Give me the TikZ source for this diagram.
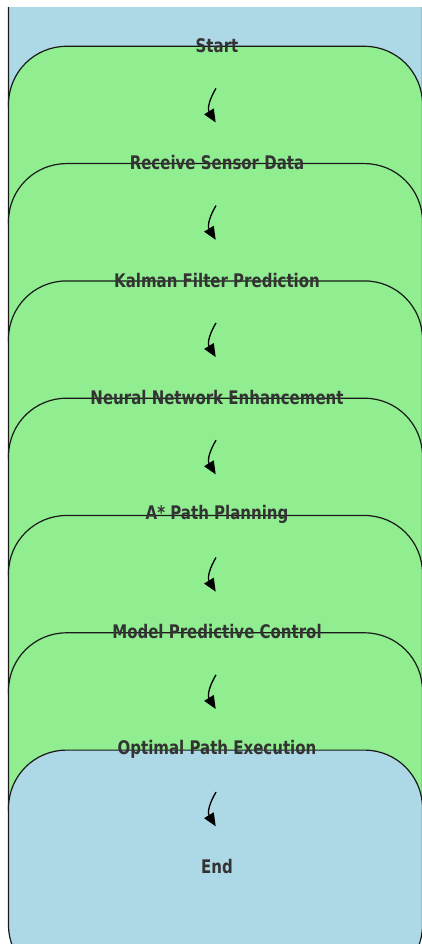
\documentclass[tikz,border=0pt]{standalone}
\usepackage{fontspec}
\setmainfont{DejaVu Sans}
\usetikzlibrary{arrows.meta}
\definecolor{startblue}{HTML}{ADD8E6}
\definecolor{stepgreen}{HTML}{90EE90}
\definecolor{labelgray}{HTML}{333333}
\newcommand{\lbltext}[1]{\scalebox{1}[1.25]{#1}}
\tikzset{
  boxbase/.style={draw=black!90, line width=1.2pt, rounded corners=58pt,
    minimum width=414pt, minimum height=233pt, inner sep=0pt},
  termbox/.style={boxbase, fill=startblue},
  stepbox/.style={boxbase, fill=stepgreen},
  lbl/.style={font=\fontsize{15}{18}\selectfont\bfseries, text=labelgray, inner sep=0pt},
  arr/.style={line width=1.3pt, -{Triangle[length=13pt,width=11pt]}}
}
\begin{document}
\begin{tikzpicture}[x=1pt,y=-1pt]
\useasboundingbox (0,0) rectangle (422,944);
\fill[white] (0,0) rectangle (422,944);
\begin{scope}
\clip (7.4,8) rectangle (422,944);
\node[termbox] (b0) at (215.5,45.5) {};
\node[stepbox] (b1) at (215.5,162.8) {};
\node[stepbox] (b2) at (215.5,280.1) {};
\node[stepbox] (b3) at (215.5,397.4) {};
\node[stepbox] (b4) at (215.5,514.7) {};
\node[stepbox] (b5) at (215.5,632.0) {};
\node[stepbox] (b6) at (215.5,749.3) {};
\node[termbox] (b7) at (215.5,866.6) {};
\end{scope}
\node[lbl] (t0) at (217,45.5) {\lbltext{Start}};
\node[lbl] (t1) at (217,162.8) {\lbltext{Receive Sensor Data}};
\node[lbl] (t2) at (217,280.1) {\lbltext{Kalman Filter Prediction}};
\node[lbl] (t3) at (217,397.4) {\lbltext{Neural Network Enhancement}};
\node[lbl] (t4) at (217,514.7) {\lbltext{A* Path Planning}};
\node[lbl] (t5) at (217,632.0) {\lbltext{Model Predictive Control}};
\node[lbl] (t6) at (217,749.3) {\lbltext{Optimal Path Execution}};
\node[lbl] (t7) at (217,866.6) {\lbltext{End}};
\foreach \i/\j in {0/1,1/2,2/3,3/4,4/5,5/6,6/7}{
  \coordinate (a\i) at ([shift={(-1,42.8)}]t\i.center);
  \coordinate (z\i) at ([shift={(-1.3,-40.3)}]t\j.center);
  \draw[arr] (a\i) .. controls +(-6,10) and +(-8.7,-14.3) .. (z\i);
}
\end{tikzpicture}
\end{document}
